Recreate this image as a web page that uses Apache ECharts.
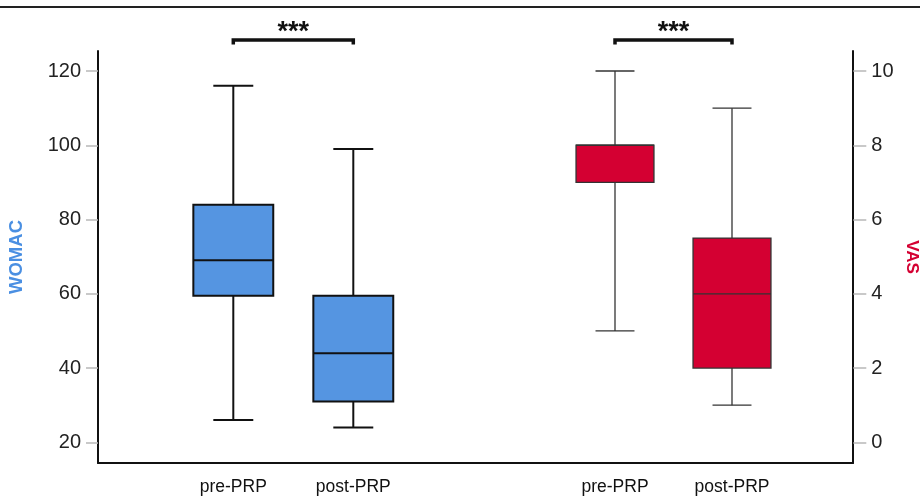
<!DOCTYPE html>
<html>
<head>
<meta charset="utf-8">
<script src="https://cdn.jsdelivr.net/npm/echarts@6/dist/echarts.min.js"></script>
<style>
  html, body { margin: 0; padding: 0; background: #fff; }
  #chart { width: 920px; height: 496px; }
</style>
</head>
<body>
<div id="chart"></div>
<script>
const groups = ['pre-PRP', 'post-PRP']
// min, Q1, median, Q3, max
const womacStats = [[26, 59.5, 69, 84, 116], [24, 31, 44, 59.5, 99]]
const vasStats = [[3, 7, 8, 8, 10], [1, 2, 4, 5.5, 9]]
// min, max, step
const womacTicks = [20, 120, 20]
const vasTicks = [0, 10, 2]
const significance = ['***', '***']

const FONT = "'Liberation Sans', Arial, sans-serif"
const BLUE = '#5595e1'
const RED = '#d40032'

function boxRenderer (fill, stroke, lineWidth) {
  return function (params, api) {
    const x = api.value(0)
    const half = api.size([1, 0])[0] * 0.333
    const cap = half / 2
    const pMin = api.coord([x, api.value(1)])
    const pQ1 = api.coord([x, api.value(2)])
    const pMed = api.coord([x, api.value(3)])
    const pQ3 = api.coord([x, api.value(4)])
    const pMax = api.coord([x, api.value(5)])
    const cx = pMed[0]
    const ls = { stroke: stroke, lineWidth: lineWidth }
    return {
      type: 'group',
      children: [
        { type: 'line', shape: { x1: cx, y1: pMax[1], x2: cx, y2: pQ3[1] }, style: ls },
        { type: 'line', shape: { x1: cx, y1: pQ1[1], x2: cx, y2: pMin[1] }, style: ls },
        { type: 'line', shape: { x1: cx - cap, y1: pMax[1], x2: cx + cap, y2: pMax[1] }, style: ls },
        { type: 'line', shape: { x1: cx - cap, y1: pMin[1], x2: cx + cap, y2: pMin[1] }, style: ls },
        {
          type: 'rect',
          shape: { x: cx - half, y: pQ3[1], width: half * 2, height: pQ1[1] - pQ3[1] },
          style: { fill: fill, stroke: stroke, lineWidth: lineWidth }
        },
        { type: 'line', shape: { x1: cx - half, y1: pMed[1], x2: cx + half, y2: pMed[1] }, style: ls }
      ]
    }
  }
}

function bracketRenderer (label) {
  return function (params, api) {
    const a = api.coord([api.value(0), api.value(2)])
    const b = api.coord([api.value(1), api.value(2)])
    const y = a[1] - 31
    return {
      type: 'group',
      children: [
        {
          type: 'polyline',
          shape: { points: [[a[0], y + 4.5], [a[0], y], [b[0], y], [b[0], y + 4.5]] },
          style: { fill: null, stroke: '#111', lineWidth: 3.5 }
        },
        {
          type: 'text',
          style: {
            text: label,
            x: (a[0] + b[0]) / 2, y: y - 7,
            align: 'center', verticalAlign: 'middle',
            font: 'bold 27px ' + FONT, fill: '#111'
          }
        }
      ]
    }
  }
}

const frameLine = { show: true, onZero: false, lineStyle: { color: '#111', width: 2 } }
const dataXAxis = (gridIndex) => ({
  gridIndex: gridIndex,
  type: 'category',
  data: groups,
  axisLine: { show: false },
  axisTick: { show: false },
  axisLabel: { margin: 36, fontSize: 17.5, color: '#111', fontFamily: FONT }
})

const chart = echarts.init(document.getElementById('chart'), null, { renderer: 'canvas' })
chart.setOption({
  animation: false,
  backgroundColor: '#fff',
  graphic: [
    { type: 'line', shape: { x1: 0, y1: 7, x2: 920, y2: 7 }, style: { stroke: '#222', lineWidth: 2 } }
  ],
  grid: [
    { left: 98, top: 51, width: 755, height: 412, outerBoundsMode: 'none', containLabel: false },
    { left: 173.3, top: 71, width: 240, height: 371.3, outerBoundsMode: 'none', containLabel: false },
    { left: 556.5, top: 71, width: 234, height: 371.3, outerBoundsMode: 'none', containLabel: false }
  ],
  xAxis: [
    {
      gridIndex: 0, type: 'value', min: 0, max: 1,
      axisLine: frameLine, axisTick: { show: false }, axisLabel: { show: false }, splitLine: { show: false }
    },
    dataXAxis(1),
    dataXAxis(2)
  ],
  yAxis: [
    {
      gridIndex: 0, type: 'value', position: 'left', min: 0, max: 1,
      axisLine: frameLine, axisTick: { show: false }, axisLabel: { show: false }, splitLine: { show: false },
      name: 'WOMAC', nameLocation: 'middle', nameGap: 72,
      nameTextStyle: { color: '#4a8fe2', fontWeight: 'bold', fontSize: 18.5, fontFamily: FONT }
    },
    {
      gridIndex: 0, type: 'value', position: 'right', min: 0, max: 1,
      axisLine: frameLine, axisTick: { show: false }, axisLabel: { show: false }, splitLine: { show: false },
      name: 'VAS', nameLocation: 'middle', nameGap: 50, nameRotate: -90,
      nameTextStyle: { color: RED, fontWeight: 'bold', fontSize: 17, fontFamily: FONT }
    },
    {
      gridIndex: 1, type: 'value', position: 'left', offset: 75.3,
      min: womacTicks[0], max: womacTicks[1], interval: womacTicks[2],
      axisLine: { show: false },
      axisTick: { show: true, length: 12, lineStyle: { color: '#b8b8b8', width: 1.5 } },
      axisLabel: { margin: 17, fontSize: 20, color: '#222', fontFamily: FONT },
      splitLine: { show: false }
    },
    {
      gridIndex: 2, type: 'value', position: 'right', offset: 62.8,
      min: vasTicks[0], max: vasTicks[1], interval: vasTicks[2],
      axisLine: { show: false },
      axisTick: { show: true, length: 13, lineStyle: { color: '#b8b8b8', width: 1.5 } },
      axisLabel: { margin: 18, fontSize: 20, color: '#222', fontFamily: FONT },
      splitLine: { show: false }
    }
  ],
  series: [
    {
      type: 'custom', name: 'WOMAC', xAxisIndex: 1, yAxisIndex: 2,
      renderItem: boxRenderer(BLUE, '#111', 2),
      encode: { x: 0, y: [1, 2, 3, 4, 5] },
      data: womacStats.map((s, i) => [i].concat(s))
    },
    {
      type: 'custom', name: 'VAS', xAxisIndex: 2, yAxisIndex: 3,
      renderItem: boxRenderer(RED, '#333', 1.3),
      encode: { x: 0, y: [1, 2, 3, 4, 5] },
      data: vasStats.map((s, i) => [i].concat(s))
    },
    {
      type: 'custom', xAxisIndex: 1, yAxisIndex: 2, silent: true,
      renderItem: bracketRenderer(significance[0]),
      encode: { x: [0, 1], y: 2 },
      data: [[0, 1, womacTicks[1]]]
    },
    {
      type: 'custom', xAxisIndex: 2, yAxisIndex: 3, silent: true,
      renderItem: bracketRenderer(significance[1]),
      encode: { x: [0, 1], y: 2 },
      data: [[0, 1, vasTicks[1]]]
    }
  ]
})
</script>
</body>
</html>
